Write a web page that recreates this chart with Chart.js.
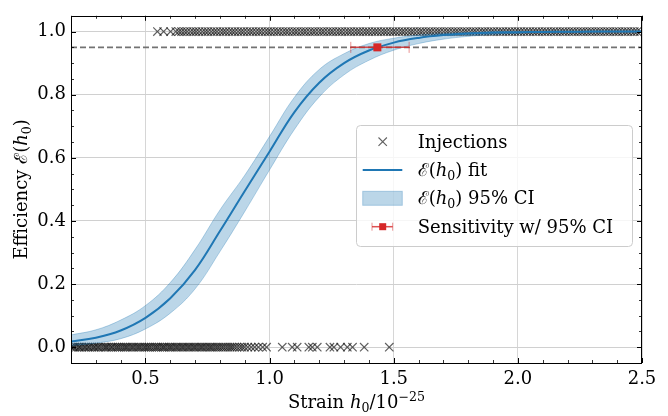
<!DOCTYPE html>
<html>
<head>
<meta charset="utf-8">
<script src="https://cdn.jsdelivr.net/npm/chart.js@4"></script>
<style>
  html, body { margin: 0; padding: 0; background: #fff; }
</style>
</head>
<body>
<canvas id="effChart" width="668" height="416"></canvas>
<script>
// fit curve + 95% band
const fitX = [0.2, 0.3, 0.4, 0.5, 0.6, 0.7, 0.8, 0.9, 1.0, 1.1, 1.2, 1.3, 1.4, 1.5, 1.6, 1.7, 1.8, 1.9, 2.0, 2.1, 2.2, 2.3, 2.4, 2.5];
const fitY = [0.018, 0.03, 0.053, 0.093, 0.155, 0.245, 0.368, 0.495, 0.62, 0.745, 0.838, 0.9, 0.94, 0.965, 0.98, 0.989, 0.994, 0.997, 0.998, 0.999, 0.9995, 1.0, 1.0, 1.0];
const ciLow = [0.005, 0.013, 0.027, 0.058, 0.108, 0.185, 0.303, 0.43, 0.562, 0.69, 0.793, 0.863, 0.909, 0.941, 0.962, 0.976, 0.985, 0.991, 0.995, 0.997, 0.998, 0.999, 0.999, 0.999];
const ciHigh = [0.039, 0.055, 0.086, 0.132, 0.205, 0.31, 0.435, 0.545, 0.668, 0.792, 0.88, 0.93, 0.962, 0.979, 0.989, 0.994, 0.997, 0.999, 0.999, 1.0, 1.0, 1.0, 1.0, 1.0];

// injections that were missed (y = 0) and found (y = 1)
const missedH = [0.201, 0.209, 0.214, 0.222, 0.231, 0.236, 0.244, 0.253, 0.259, 0.268, 0.274, 0.283, 0.291, 0.297, 0.306, 0.312, 0.321, 0.33, 0.338, 0.344, 0.352, 0.361, 0.367, 0.376, 0.384, 0.391, 0.399, 0.407, 0.415, 0.422, 0.429, 0.438, 0.446, 0.453, 0.462, 0.47, 0.477, 0.485, 0.494, 0.501, 0.509, 0.516, 0.524, 0.533, 0.541, 0.548, 0.556, 0.565, 0.572, 0.579, 0.588, 0.596, 0.603, 0.611, 0.62, 0.627, 0.635, 0.644, 0.651, 0.659, 0.668, 0.675, 0.683, 0.692, 0.699, 0.707, 0.716, 0.724, 0.731, 0.74, 0.748, 0.757, 0.764, 0.772, 0.781, 0.789, 0.797, 0.806, 0.814, 0.823, 0.832, 0.841, 0.849, 0.858, 0.868, 0.879, 0.889, 0.899, 0.912, 0.926, 0.94, 0.955, 0.972, 0.988, 1.051, 1.091, 1.111, 1.158, 1.172, 1.192, 1.243, 1.259, 1.286, 1.313, 1.334, 1.381, 1.482];
const foundH = [0.548, 0.573, 0.601, 0.622, 0.634, 0.645, 0.657, 0.668, 0.681, 0.693, 0.704, 0.716, 0.729, 0.741, 0.752, 0.765, 0.777, 0.788, 0.801, 0.813, 0.824, 0.837, 0.849, 0.86, 0.873, 0.885, 0.896, 0.909, 0.921, 0.932, 0.945, 0.957, 0.968, 0.981, 0.993, 1.004, 1.017, 1.029, 1.04, 1.053, 1.065, 1.076, 1.089, 1.101, 1.112, 1.125, 1.137, 1.148, 1.161, 1.173, 1.184, 1.197, 1.209, 1.22, 1.233, 1.245, 1.256, 1.269, 1.281, 1.292, 1.305, 1.317, 1.328, 1.341, 1.353, 1.364, 1.377, 1.389, 1.4, 1.413, 1.425, 1.436, 1.449, 1.461, 1.472, 1.485, 1.497, 1.508, 1.521, 1.533, 1.544, 1.557, 1.569, 1.58, 1.593, 1.605, 1.616, 1.629, 1.641, 1.652, 1.665, 1.677, 1.688, 1.701, 1.713, 1.724, 1.737, 1.749, 1.76, 1.773, 1.785, 1.796, 1.809, 1.821, 1.832, 1.845, 1.857, 1.868, 1.881, 1.893, 1.904, 1.917, 1.929, 1.94, 1.953, 1.965, 1.976, 1.989, 2.001, 2.012, 2.025, 2.037, 2.048, 2.061, 2.073, 2.084, 2.097, 2.109, 2.12, 2.133, 2.145, 2.156, 2.169, 2.181, 2.192, 2.205, 2.217, 2.228, 2.241, 2.253, 2.264, 2.277, 2.289, 2.3, 2.313, 2.325, 2.336, 2.349, 2.361, 2.372, 2.385, 2.397, 2.408, 2.421, 2.433, 2.444, 2.457, 2.469, 2.48, 2.493];

// sensitivity point (95% efficiency) with its interval
const sensLevel = 0.95;
const sensH = 1.434;
const sensLo = 1.327;
const sensHi = 1.562;

const xRange = [0.2, 2.5];
const yRange = [-0.05, 1.05];
const xTicks = [0.5, 1.0, 1.5, 2.0, 2.5];
const yTicks = [0.0, 0.2, 0.4, 0.6, 0.8, 1.0];

const FONT = '"DejaVu Serif", "Liberation Serif", serif';
const BLUE = '#1f77b4';
const BAND = 'rgba(31,119,180,0.3)';
const RED = '#d62728';
const CROSS = 'rgba(0,0,0,0.62)';

function partFont(p, size) {
    const s = (p.sub || p.sup) ? size * 0.7 : size;
    return (p.it ? 'italic ' : '') + s + 'px ' + FONT;
}

function drawRich(c, parts, x, y, size, align) {
    let w = 0;
    parts.forEach(p => { c.font = partFont(p, size); w += c.measureText(p.t).width; });
    let cx = align === 'center' ? x - w / 2 : x;
    c.textAlign = 'left';
    c.textBaseline = 'alphabetic';
    parts.forEach(p => {
        c.font = partFont(p, size);
        const dy = p.sub ? size * 0.22 : (p.sup ? -size * 0.4 : 0);
        c.fillText(p.t, cx, y + dy);
        cx += c.measureText(p.t).width;
    });
}

const effH0 = [{ t: '\u2130' }, { t: '(' }, { t: 'h', it: true }, { t: '0', sub: true }, { t: ')' }];
const xTitle = [{ t: 'Strain ' }, { t: 'h', it: true }, { t: '0', sub: true }, { t: '/10' }, { t: '\u221225', sup: true }];
const yTitle = [{ t: 'Efficiency ' }].concat(effH0);

const extras = {
    id: 'extras',
    afterDatasetsDraw(chart) {
        const c = chart.ctx;
        const x = chart.scales.x, y = chart.scales.y;
        // horizontal error bar on the sensitivity point
        const py = y.getPixelForValue(sensLevel);
        const x0 = x.getPixelForValue(sensLo), x1 = x.getPixelForValue(sensHi);
        c.save();
        c.strokeStyle = 'rgba(214,39,40,0.8)';
        c.lineWidth = 1.5;
        c.beginPath(); c.moveTo(x0, py); c.lineTo(x1, py); c.stroke();
        c.strokeStyle = 'rgba(214,39,40,0.5)';
        c.lineWidth = 1;
        c.beginPath();
        c.moveTo(x0, py - 5.5); c.lineTo(x0, py + 5.5);
        c.moveTo(x1, py - 5.5); c.lineTo(x1, py + 5.5);
        c.stroke();
        c.fillStyle = RED;
        c.fillRect(x.getPixelForValue(sensH) - 4, py - 4, 8, 8);
        c.restore();
    },
    afterDraw(chart) {
        const c = chart.ctx;
        const a = chart.chartArea;
        const x = chart.scales.x, y = chart.scales.y;
        c.save();
        // frame
        c.strokeStyle = '#000';
        c.lineWidth = 1;
        c.strokeRect(Math.round(a.left) + 0.5, Math.round(a.top) + 0.5, Math.round(a.right - a.left) - 1, Math.round(a.bottom - a.top));
        // inward ticks on all four sides
        const tick = (px, len, vertical) => {
            const p = Math.round(px) + 0.5;
            c.beginPath();
            if (vertical) {
                c.moveTo(p, a.bottom); c.lineTo(p, a.bottom - len);
                c.moveTo(p, a.top); c.lineTo(p, a.top + len);
            } else {
                c.moveTo(a.left, p); c.lineTo(a.left + len, p);
                c.moveTo(a.right, p); c.lineTo(a.right - len, p);
            }
            c.stroke();
        };
        xTicks.forEach(v => tick(x.getPixelForValue(v), 5, true));
        yTicks.forEach(v => tick(y.getPixelForValue(v), 5, false));
        c.lineWidth = 0.8;
        for (let v = 0.2; v < 2.5001; v += 0.1) {
            if (Math.abs(v * 2 - Math.round(v * 2)) > 1e-6) tick(x.getPixelForValue(v), 3, true);
        }
        for (let v = -0.05; v < 1.0501; v += 0.05) {
            if (Math.abs(v * 5 - Math.round(v * 5)) > 1e-6) tick(y.getPixelForValue(v), 3, false);
        }

        // axis titles
        c.fillStyle = '#000';
        drawRich(c, xTitle, (a.left + a.right) / 2, 408, 18, 'center');
        c.save();
        c.translate(27, (a.top + a.bottom) / 2);
        c.rotate(-Math.PI / 2);
        drawRich(c, yTitle, 0, 0, 18, 'center');
        c.restore();

        // legend
        const bx = 356, by = 125, bw = 276, bh = 121;
        c.beginPath();
        c.roundRect(bx + 0.5, by + 0.5, bw, bh, 4);
        c.fillStyle = 'rgba(255,255,255,0.8)';
        c.fill();
        c.strokeStyle = '#cccccc';
        c.lineWidth = 1;
        c.stroke();

        const symX = 382.7, textX = 417.7;
        const rows = [141.7, 170, 198.3, 226.7];
        // x marker
        c.strokeStyle = CROSS;
        c.lineWidth = 1.1;
        c.beginPath();
        c.moveTo(symX - 4.2, rows[0] - 4.2); c.lineTo(symX + 4.2, rows[0] + 4.2);
        c.moveTo(symX - 4.2, rows[0] + 4.2); c.lineTo(symX + 4.2, rows[0] - 4.2);
        c.stroke();
        // fit line
        c.strokeStyle = BLUE;
        c.lineWidth = 2;
        c.beginPath(); c.moveTo(362.7, rows[1]); c.lineTo(402.3, rows[1]); c.stroke();
        // band patch
        c.fillStyle = BAND;
        c.fillRect(362.7, rows[2] - 7, 39.6, 14);
        c.strokeStyle = BAND;
        c.lineWidth = 1;
        c.strokeRect(362.7, rows[2] - 7, 39.6, 14);
        // error bar
        c.strokeStyle = 'rgba(214,39,40,0.8)';
        c.lineWidth = 1.5;
        c.beginPath(); c.moveTo(372, rows[3]); c.lineTo(392.7, rows[3]); c.stroke();
        c.strokeStyle = 'rgba(214,39,40,0.5)';
        c.lineWidth = 1;
        c.beginPath();
        c.moveTo(372, rows[3] - 4); c.lineTo(372, rows[3] + 4);
        c.moveTo(392.7, rows[3] - 4); c.lineTo(392.7, rows[3] + 4);
        c.stroke();
        c.fillStyle = RED;
        c.fillRect(symX - 3.5, rows[3] - 3.5, 7, 7);

        c.fillStyle = '#000';
        drawRich(c, [{ t: 'Injections' }], textX, rows[0] + 6, 18, 'left');
        drawRich(c, effH0.concat([{ t: ' fit' }]), textX, rows[1] + 6, 18, 'left');
        drawRich(c, effH0.concat([{ t: ' 95% CI' }]), textX, rows[2] + 6, 18, 'left');
        drawRich(c, [{ t: 'Sensitivity w/ 95% CI' }], textX, rows[3] + 6, 18, 'left');
        c.restore();
    }
};

const ctx = document.getElementById('effChart');

new Chart(ctx, {
    type: 'line',
    data: {
        datasets: [{
            label: 'upper',
            data: fitX.map((v, i) => ({ x: v, y: ciHigh[i] })),
            borderColor: BAND,
            borderWidth: 1,
            backgroundColor: BAND,
            pointRadius: 0,
            tension: 0.4,
            fill: '+1',
            order: 5
        }, {
            label: 'lower',
            data: fitX.map((v, i) => ({ x: v, y: ciLow[i] })),
            borderColor: BAND,
            borderWidth: 1,
            pointRadius: 0,
            tension: 0.4,
            fill: false,
            order: 5
        }, {
            label: 'fit',
            data: fitX.map((v, i) => ({ x: v, y: fitY[i] })),
            borderColor: BLUE,
            borderWidth: 2,
            pointRadius: 0,
            tension: 0.4,
            fill: false,
            order: 2
        }, {
            label: 'missed',
            data: missedH.map(v => ({ x: v, y: 0 })),
            showLine: false,
            pointStyle: 'crossRot',
            pointRadius: 5.9,
            borderWidth: 1.2,
            borderColor: CROSS,
            order: 6
        }, {
            label: 'found',
            data: foundH.map(v => ({ x: v, y: 1 })),
            showLine: false,
            pointStyle: 'crossRot',
            pointRadius: 5.9,
            borderWidth: 1.2,
            borderColor: CROSS,
            order: 6
        }, {
            label: 'threshold',
            data: xRange.map(v => ({ x: v, y: sensLevel })),
            borderColor: '#737373',
            borderWidth: 1.6,
            borderDash: [6, 3],
            pointRadius: 0,
            fill: false,
            order: 3
        }],
    },
    plugins: [extras],
    options: {
        responsive: false,
        animation: false,
        events: [],
        clip: 0,
        layout: { padding: { left: 0, right: 26, top: 8, bottom: 0 } },
        plugins: { legend: { display: false }, tooltip: { enabled: false } },
        scales: {
            x: {
                type: 'linear',
                min: xRange[0],
                max: xRange[1],
                afterBuildTicks: s => { s.ticks = xTicks.map(v => ({ value: v })); },
                afterFit: s => { s.height = 53; },
                grid: { color: '#d6d6d6', lineWidth: 1, drawTicks: false },
                border: { display: false },
                ticks: {
                    padding: 6,
                    color: '#000',
                    maxRotation: 0,
                    autoSkip: false,
                    font: { family: FONT, size: 18 },
                    callback: v => v.toFixed(1)
                }
            },
            y: {
                type: 'linear',
                min: yRange[0],
                max: yRange[1],
                afterBuildTicks: s => { s.ticks = yTicks.map(v => ({ value: v })); },
                afterFit: s => { s.width = 71; },
                grid: { color: '#d0d0d0', lineWidth: 1, drawTicks: false },
                border: { display: false },
                ticks: {
                    padding: 5,
                    color: '#000',
                    autoSkip: false,
                    font: { family: FONT, size: 18 },
                    callback: v => v.toFixed(1)
                }
            }
        }
    }
});
</script>
</body>
</html>
